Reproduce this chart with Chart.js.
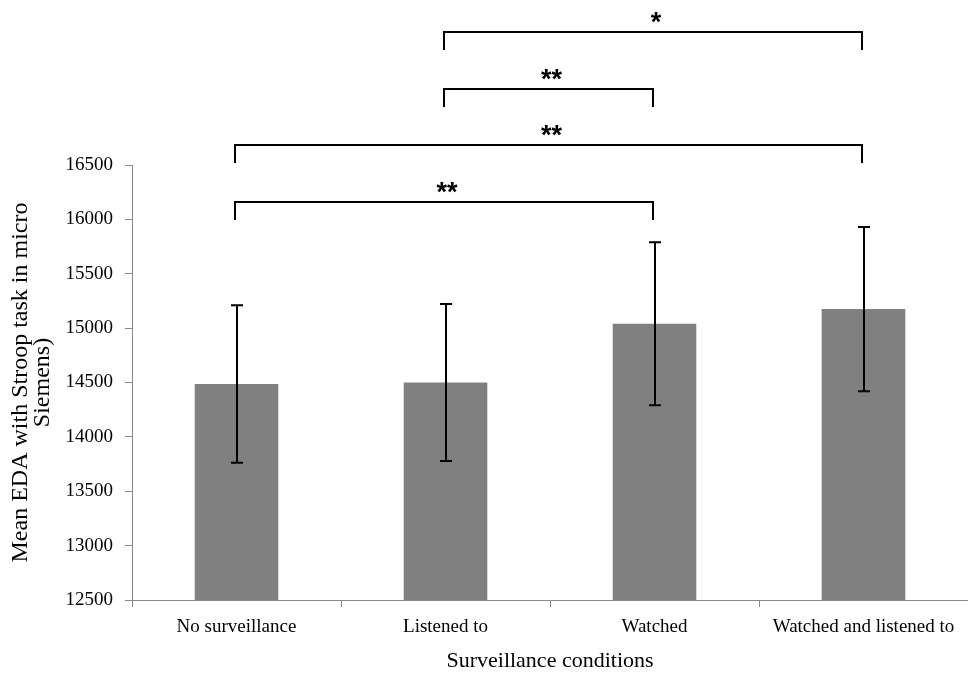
<!DOCTYPE html>
<html>
<head>
<meta charset="utf-8">
<script src="https://cdn.jsdelivr.net/npm/chart.js@4"></script>
<style>
  html, body { margin: 0; padding: 0; background: #fff; }
  #wrap { width: 968px; height: 675px; }
</style>
</head>
<body>
<div id="wrap"><canvas id="grafico"></canvas></div>
<script>
// dados
const condicoes = ['No surveillance', 'Listened to', 'Watched', 'Watched and listened to'];
const medias = [14486, 14500, 15040, 15175];
const erros = [725, 722, 750, 755];

// comparações significativas: índices das barras, altura (valor do eixo y) e rótulo
const compDe = [1, 1, 0, 0];
const compAte = [3, 2, 3, 2];
const compAltura = [17720, 17200, 16685, 16160];
const compRotulo = ['*', '**', '**', '**'];

const serif = '"Liberation Serif", "Times New Roman", serif';

/* --------- barras de erro --------- */
const barrasErro = {
  id: 'barrasErro',
  afterDatasetsDraw(chart) {
    const { ctx, scales: { y } } = chart;
    const meta = chart.getDatasetMeta(0);
    ctx.save();
    ctx.strokeStyle = '#000';
    ctx.lineWidth = 2;
    meta.data.forEach((bar, i) => {
      const x = Math.round(bar.x);
      const yt = y.getPixelForValue(medias[i] + erros[i]);
      const yb = y.getPixelForValue(medias[i] - erros[i]);
      ctx.beginPath();
      ctx.moveTo(x, yt); ctx.lineTo(x, yb);
      ctx.moveTo(x - 6, yt); ctx.lineTo(x + 6, yt);
      ctx.moveTo(x - 6, yb); ctx.lineTo(x + 6, yb);
      ctx.stroke();
    });
    ctx.restore();
  }
};

/* --------- colchetes de significância --------- */
const colchetes = {
  id: 'colchetes',
  afterDraw(chart) {
    const { ctx, scales: { y } } = chart;
    const meta = chart.getDatasetMeta(0);
    ctx.save();
    ctx.strokeStyle = '#000';
    ctx.fillStyle = '#000';
    ctx.lineWidth = 2;
    ctx.font = 'bold 27px "Liberation Sans", Arial, sans-serif';
    ctx.textAlign = 'center';
    ctx.textBaseline = 'middle';
    compRotulo.forEach((rot, i) => {
      const x1 = Math.round(meta.data[compDe[i]].x) - 2;
      const x2 = Math.round(meta.data[compAte[i]].x) - 2;
      const yy = Math.round(y.getPixelForValue(compAltura[i]));
      ctx.beginPath();
      ctx.moveTo(x1, yy + 18); ctx.lineTo(x1, yy);
      ctx.lineTo(x2, yy); ctx.lineTo(x2, yy + 18);
      ctx.stroke();
      ctx.fillText(rot, (x1 + x2) / 2 + 3, yy - 8);
    });
    ctx.restore();
  }
};

new Chart(document.getElementById('grafico'), {
  type: 'bar',
  data: {
    labels: condicoes,
    datasets: [{
      data: medias,
      backgroundColor: '#808080',
      categoryPercentage: 1,
      barPercentage: 0.4
    }]
  },
  options: {
    responsive: true,
    maintainAspectRatio: false,
    animation: false,
    layout: { padding: { top: 165, right: 0, bottom: 0, left: 0 } },
    plugins: { legend: { display: false }, tooltip: { enabled: false } },
    scales: {
      x: {
        grid: { offset: true, drawOnChartArea: false, color: '#888', tickLength: 7 },
        border: { color: '#888', width: 1 },
        ticks: { color: '#000', font: { family: serif, size: 19 }, padding: 9, maxRotation: 0 },
        title: {
          display: true, text: 'Surveillance conditions', color: '#000',
          font: { family: serif, size: 22, lineHeight: 1.0 }, padding: { top: 0, bottom: 3 }
        },
        afterFit: s => { s.height = 75; }
      },
      y: {
        min: 12500, max: 16500,
        grid: { drawOnChartArea: false, color: '#888', tickLength: 7 },
        border: { color: '#888', width: 1 },
        ticks: {
          stepSize: 500, color: '#000', font: { family: serif, size: 19 }, padding: 12,
          callback: v => String(v)
        },
        title: {
          display: true, text: ['Mean EDA with Stroop task in micro', 'Siemens)'], color: '#000',
          font: { family: serif, size: 24, lineHeight: 0.95 }, padding: { top: 9, bottom: 0 }
        },
        afterFit: s => { s.width = 132; }
      }
    }
  },
  plugins: [barrasErro, colchetes]
});
</script>
</body>
</html>
